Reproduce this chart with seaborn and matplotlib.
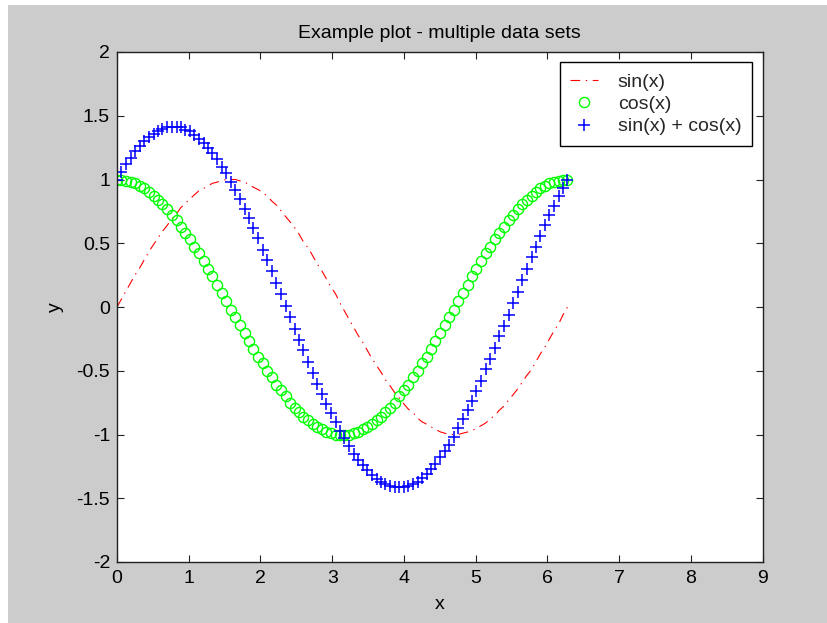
import matplotlib
matplotlib.use("Agg")
import matplotlib.pyplot as plt
import seaborn as sns
import pandas as pd
from matplotlib.patches import Rectangle

# Sample positions (0 .. 2*pi, 100 points)
x_vals = [
    0.00, 0.06, 0.13, 0.19, 0.25, 0.32, 0.38, 0.44, 0.51, 0.57,
    0.63, 0.70, 0.76, 0.83, 0.89, 0.95, 1.02, 1.08, 1.14, 1.21,
    1.27, 1.33, 1.40, 1.46, 1.52, 1.59, 1.65, 1.71, 1.78, 1.84,
    1.90, 1.97, 2.03, 2.09, 2.16, 2.22, 2.28, 2.35, 2.41, 2.48,
    2.54, 2.60, 2.67, 2.73, 2.79, 2.86, 2.92, 2.98, 3.05, 3.11,
    3.17, 3.24, 3.30, 3.36, 3.43, 3.49, 3.55, 3.62, 3.68, 3.74,
    3.81, 3.87, 3.93, 4.00, 4.06, 4.13, 4.19, 4.25, 4.32, 4.38,
    4.44, 4.51, 4.57, 4.63, 4.70, 4.76, 4.82, 4.89, 4.95, 5.01,
    5.08, 5.14, 5.20, 5.27, 5.33, 5.39, 5.46, 5.52, 5.59, 5.65,
    5.71, 5.78, 5.84, 5.90, 5.97, 6.03, 6.09, 6.16, 6.22, 6.28,
]

sin_vals = [
    0.00, 0.06, 0.13, 0.19, 0.25, 0.31, 0.37, 0.43, 0.49, 0.54,
    0.59, 0.64, 0.69, 0.73, 0.78, 0.81, 0.85, 0.88, 0.91, 0.93,
    0.95, 0.97, 0.98, 0.99, 1.00, 1.00, 1.00, 0.99, 0.98, 0.96,
    0.94, 0.92, 0.90, 0.87, 0.83, 0.80, 0.76, 0.71, 0.67, 0.62,
    0.57, 0.51, 0.46, 0.40, 0.34, 0.28, 0.22, 0.16, 0.10, 0.03,
    -0.03, -0.10, -0.16, -0.22, -0.28, -0.34, -0.40, -0.46, -0.51, -0.57,
    -0.62, -0.67, -0.71, -0.76, -0.80, -0.83, -0.87, -0.90, -0.92, -0.94,
    -0.96, -0.98, -0.99, -1.00, -1.00, -1.00, -0.99, -0.98, -0.97, -0.95,
    -0.93, -0.91, -0.88, -0.85, -0.81, -0.78, -0.73, -0.69, -0.64, -0.59,
    -0.54, -0.49, -0.43, -0.37, -0.31, -0.25, -0.19, -0.13, -0.06, 0.00,
]

cos_vals = [
    1.00, 1.00, 0.99, 0.98, 0.97, 0.95, 0.93, 0.90, 0.87, 0.84,
    0.81, 0.77, 0.72, 0.68, 0.63, 0.58, 0.53, 0.47, 0.42, 0.36,
    0.30, 0.24, 0.17, 0.11, 0.05, -0.02, -0.08, -0.14, -0.20, -0.27,
    -0.33, -0.39, -0.44, -0.50, -0.55, -0.61, -0.65, -0.70, -0.75, -0.79,
    -0.82, -0.86, -0.89, -0.92, -0.94, -0.96, -0.98, -0.99, -1.00, -1.00,
    -1.00, -1.00, -0.99, -0.98, -0.96, -0.94, -0.92, -0.89, -0.86, -0.82,
    -0.79, -0.75, -0.70, -0.65, -0.61, -0.55, -0.50, -0.44, -0.39, -0.33,
    -0.27, -0.20, -0.14, -0.08, -0.02, 0.05, 0.11, 0.17, 0.24, 0.30,
    0.36, 0.42, 0.47, 0.53, 0.58, 0.63, 0.68, 0.72, 0.77, 0.81,
    0.84, 0.87, 0.90, 0.93, 0.95, 0.97, 0.98, 0.99, 1.00, 1.00,
]

sum_vals = [
    1.00, 1.06, 1.12, 1.17, 1.22, 1.26, 1.30, 1.33, 1.36, 1.38,
    1.40, 1.41, 1.41, 1.41, 1.41, 1.39, 1.38, 1.35, 1.32, 1.29,
    1.25, 1.21, 1.16, 1.10, 1.05, 0.98, 0.92, 0.85, 0.77, 0.70,
    0.62, 0.54, 0.45, 0.37, 0.28, 0.19, 0.10, 0.01, -0.08, -0.17,
    -0.26, -0.34, -0.43, -0.52, -0.60, -0.68, -0.76, -0.83, -0.90, -0.97,
    -1.03, -1.09, -1.15, -1.20, -1.24, -1.28, -1.32, -1.35, -1.37, -1.39,
    -1.40, -1.41, -1.41, -1.41, -1.40, -1.39, -1.37, -1.34, -1.31, -1.27,
    -1.23, -1.18, -1.13, -1.08, -1.02, -0.95, -0.88, -0.81, -0.74, -0.66,
    -0.58, -0.49, -0.41, -0.32, -0.23, -0.15, -0.06, 0.03, 0.12, 0.21,
    0.30, 0.39, 0.47, 0.56, 0.64, 0.72, 0.79, 0.87, 0.93, 1.00,
]

series_labels = ["sin(x)", "cos(x)", "sin(x) + cos(x)"]
x_ticks = [0, 1, 2, 3, 4, 5, 6, 7, 8, 9]
y_ticks = [-2, -1.5, -1, -0.5, 0, 0.5, 1, 1.5, 2]
y_tick_labels = ["-2", "-1.5", "-1", "-0.5", "0", "0.5", "1", "1.5", "2"]

df = pd.DataFrame({"x": x_vals, "sin": sin_vals, "cos": cos_vals, "sum": sum_vals})

sns.set_theme(style="white")
plt.rcParams["font.family"] = ["Liberation Sans", "DejaVu Sans"]
plt.rcParams["lines.scale_dashes"] = False

FIG_BG = "#cccccc"
FS = 14
fig = plt.figure(figsize=(8.27, 6.23), dpi=100, facecolor="white")
# grey window panel, leaving a thin white strip on the top and left edges
fig.patches.append(Rectangle((8 / 827, 0), 1 - 8 / 827, 1 - 5 / 623,
                             transform=fig.transFigure, facecolor=FIG_BG,
                             edgecolor="none", zorder=-10))

ax = fig.add_axes([117 / 827, 61 / 623, (762.5 - 117) / 827, (562 - 52) / 623])
ax.set_facecolor("white")

sns.lineplot(data=df, x="x", y="sin", ax=ax, color="#ff0000", linewidth=0.8,
             linestyle=(0, (7, 4, 1, 4)), estimator=None, sort=False,
             label=series_labels[0])
sns.lineplot(data=df, x="x", y="cos", ax=ax, color="#00ff00", linestyle="",
             marker="o", markersize=7.3, markerfacecolor="none",
             markeredgecolor="#00ff00", markeredgewidth=1.0,
             estimator=None, sort=False, label=series_labels[1])
sns.lineplot(data=df, x="x", y="sum", ax=ax, color="#0000ff", linestyle="",
             marker="+", markersize=9, markeredgecolor="#0000ff",
             markeredgewidth=1.1, estimator=None, sort=False,
             label=series_labels[2])

ax.set_xlim(0, 9)
ax.set_ylim(-2, 2)
ax.set_xticks(x_ticks)
ax.set_yticks(y_ticks)
ax.set_yticklabels(y_tick_labels)
ax.tick_params(direction="in", length=5, width=0.8, colors="#222222",
               labelsize=FS, labelcolor="black", top=True, right=True,
               bottom=True, left=True)
ax.tick_params(axis="x", pad=6)
ax.tick_params(axis="y", pad=5)
for side in ax.spines.values():
    side.set_visible(True)
    side.set_color("#222222")
    side.set_linewidth(1.0)

ax.set_xlabel("x", fontsize=FS, color="black", labelpad=6)
ax.set_ylabel("y", fontsize=FS, color="black", labelpad=9)
ax.set_title("Example plot - multiple data sets", fontsize=FS, color="black", pad=10)

leg = ax.legend(loc="upper right", bbox_to_anchor=(0.984, 0.980), fontsize=FS,
                frameon=True, fancybox=False, shadow=False, handlelength=1.45,
                handletextpad=1.0, borderpad=0.55, labelspacing=0.25,
                borderaxespad=0)
leg.get_frame().set_edgecolor("black")
leg.get_frame().set_linewidth(1.0)
leg.get_frame().set_facecolor("white")
leg.get_frame().set_alpha(1.0)

fig.savefig("out.png", dpi=100, facecolor=fig.get_facecolor())
